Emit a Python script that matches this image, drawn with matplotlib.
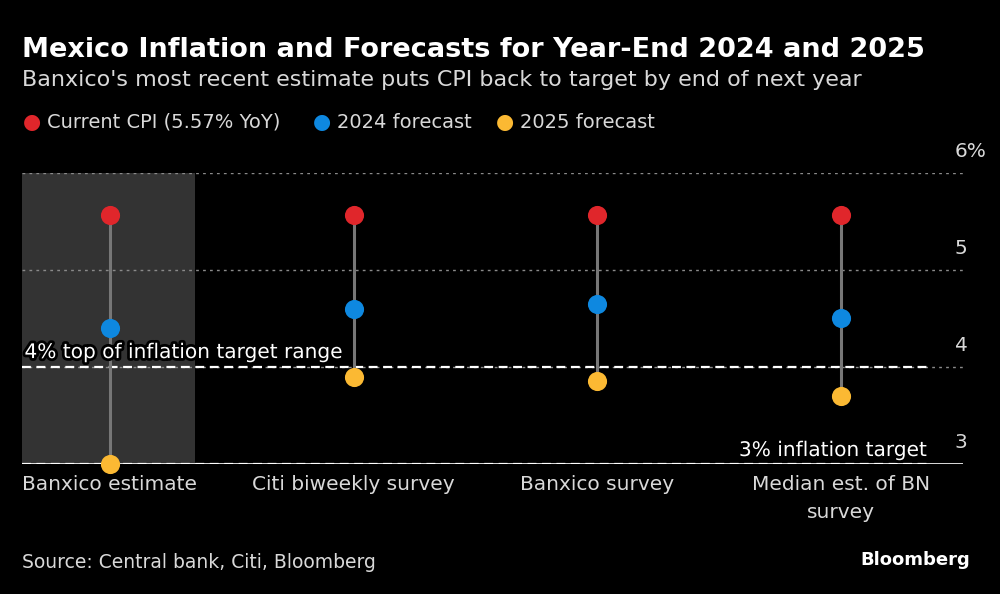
import matplotlib.pyplot as plt
import matplotlib.patheffects as pe

plt.rcParams['font.family'] = ['DejaVu Sans']

# data
categories = ['Banxico estimate', 'Citi biweekly survey', 'Banxico survey',
              'Median est. of BN\nsurvey']
current_cpi = [5.57, 5.57, 5.57, 5.57]
forecast_2024 = [4.40, 4.60, 4.65, 4.50]
forecast_2025 = [3.00, 3.90, 3.85, 3.70]
y_ticks = [3, 4, 5, 6]
y_tick_labels = ['3', '4', '5', '6%']

RED = '#e0262b'
BLUE = '#0e88e0'
YELLOW = '#fbb933'
TXT = '#d9d9d9'

fig = plt.figure(figsize=(10, 5.94), dpi=100, facecolor='black')
ax = fig.add_axes([0.022, 0.219, 0.941, 0.490], facecolor='black')

x = list(range(len(categories)))
ax.set_xlim(-0.36, 3.5)
ax.set_ylim(3, 6)

# highlight Banxico estimate
ax.axvspan(-0.36, 0.35, color='#333333', zorder=0, lw=0)

# grid
for t in y_ticks[1:]:
    ax.axhline(t, color='#8a8a8a', lw=1, ls=(0, (2, 3)), zorder=1)
ax.axhline(3, color='white', lw=1.2, zorder=1)

# target lines
ax.plot([-0.36, 3.352], [4, 4], color='white', lw=1.6, ls=(0, (4, 2.5)), zorder=2)
ax.plot([-0.36, 3.352], [3, 3], color='white', lw=1.6, ls=(0, (4, 2.5)), zorder=2)

# stems
for xi, top, bot in zip(x, current_cpi, forecast_2025):
    ax.plot([xi, xi], [bot, top], color='#777777', lw=2.2, zorder=3)

ax.scatter(x, current_cpi, s=190, color=RED, zorder=5, clip_on=False, lw=0)
ax.scatter(x, forecast_2024, s=190, color=BLUE, zorder=5, clip_on=False, lw=0)
ax.scatter(x, forecast_2025, s=190, color=YELLOW, zorder=5, clip_on=False, lw=0)

for s in ax.spines.values():
    s.set_visible(False)
ax.set_xticks([])
ax.set_yticks([])

# y tick labels, right side above the lines
for t, lab in zip(y_ticks, y_tick_labels):
    ax.text(0.991, (t - 3) / 3 + 0.04, lab, transform=ax.transAxes,
            color=TXT, fontsize=14.5, ha='left', va='bottom')

# category labels
for xi, lab in zip(x, categories):
    ax.text(xi, 2.89, lab, color=TXT, fontsize=14.5, ha='center', va='top',
            linespacing=1.6)

stroke = [pe.withStroke(linewidth=4, foreground='black')]
ax.text(-0.35, 4.05, '4% top of inflation target range', color='white',
        fontsize=14.5, ha='left', va='bottom', path_effects=stroke, zorder=6)
ax.text(3.352, 3.04, '3% inflation target', color='white', fontsize=14.5,
        ha='right', va='bottom', path_effects=stroke, zorder=6)

# titles
fig.text(0.022, 0.904, 'Mexico Inflation and Forecasts for Year-End 2024 and 2025',
         color='white', fontsize=19.5, fontweight='bold', va='baseline')
fig.text(0.022, 0.855, "Banxico's most recent estimate puts CPI back to target by end of next year",
         color=TXT, fontsize=16, va='baseline')

# legend
legend_items = [('Current CPI (5.57% YoY)', RED, 0.032),
                ('2024 forecast', BLUE, 0.322),
                ('2025 forecast', YELLOW, 0.505)]
for lab, col, lx in legend_items:
    fig.text(lx, 0.794, '\u25cf', color=col, fontsize=15, ha='center', va='center')
    fig.text(lx + 0.015, 0.794, lab, color=TXT, fontsize=14, va='center')

fig.text(0.022, 0.043, 'Source: Central bank, Citi, Bloomberg', color=TXT,
         fontsize=13.5, va='baseline')
fig.text(0.970, 0.048, 'Bloomberg', color='white', fontsize=13,
         fontweight='bold', ha='right', va='baseline')

fig.savefig('out.png', dpi=100, facecolor='black')
